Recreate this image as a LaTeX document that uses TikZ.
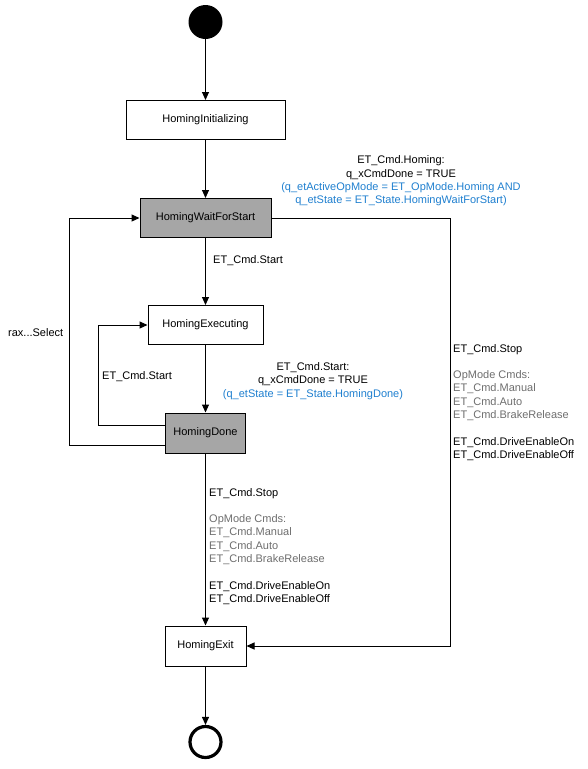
\documentclass[tikz,border=0pt]{standalone}
\usepackage{fontspec}
\setmainfont{Liberation Sans}
\usetikzlibrary{arrows.meta}
\definecolor{cgrey}{HTML}{6E6E6E}
\definecolor{cblue}{HTML}{1F7FCF}
\definecolor{cfill}{HTML}{A6A6A6}
\begin{document}
\begin{tikzpicture}[x=1pt,y=-1pt,
  font=\fontsize{11}{13.4}\selectfont,
  state/.style={draw=black,line width=1pt,fill=white,minimum height=39pt,inner sep=0pt},
  active/.style={state,fill=cfill},
  conn/.style={line width=1pt,-{Triangle[length=8pt,width=7pt]}},
  lbl/.style={inner sep=0pt,text=black}]
\useasboundingbox (0,0) rectangle (587,769);
\node[circle,fill=black,minimum size=34pt,inner sep=0pt] (start) at (205.5,22) {};
\node[state,minimum width=159pt] (init) at (205.5,120) {HomingInitializing};
\node[active,minimum width=131pt] (wait) at (205.5,218) {HomingWaitForStart};
\node[state,minimum width=115pt] (exec) at (205.5,325) {HomingExecuting};
\node[active,minimum width=80pt,minimum height=40pt] (done) at (205.5,433) {HomingDone};
\node[state,minimum width=81pt,minimum height=40pt] (exit) at (205.5,646) {HomingExit};
\node[circle,draw=black,line width=3.2pt,minimum size=31pt,inner sep=0pt] (end) at (205.5,742) {};

\coordinate (r1) at (450,218);
\coordinate (r2) at (450,646);
\coordinate (l1) at (69,445);
\coordinate (l2) at (69,218);
\coordinate (i1) at (98,425);
\coordinate (i2) at (98,325);

\draw[conn] (start) -- (init);
\draw[conn] (init) -- (wait);
\draw[conn] (wait) -- (exec);
\draw[conn] (exec) -- (done);
\draw[conn] (done) -- (exit);
\draw[conn] (exit) -- (end);
\draw[conn] (wait.east) -- (r1) -- (r2) -- (exit.east);
\draw[conn] (done.west |- l1) -- (l1) -- (l2) -- (wait.west);
\draw[conn] (done.west |- i1) -- (i1) -- (i2) -- (exec.west);

\node[lbl,align=center] (ltop) at (401,181) {ET\_Cmd.Homing:\\q\_xCmdDone = TRUE\\\textcolor{cblue}{(q\_etActiveOpMode = ET\_OpMode.Homing AND}\\\textcolor{cblue}{q\_etState = ET\_State.HomingWaitForStart)}};
\node[lbl,anchor=west] (lstart) at (213,261) {ET\_Cmd.Start};
\node[lbl,align=center] (ldone) at (313,381) {ET\_Cmd.Start:\\q\_xCmdDone = TRUE\\\textcolor{cblue}{(q\_etState = ET\_State.HomingDone)}};
\node[lbl,anchor=west] (lloop) at (102,377) {ET\_Cmd.Start};
\node[lbl,anchor=west] (lsel) at (8,333) {rax...Select};
\node[lbl,align=left,anchor=north west] (lright) at (453,344) {ET\_Cmd.Stop\\[13pt]\textcolor{cgrey}{OpMode Cmds:}\\\textcolor{cgrey}{ET\_Cmd.Manual}\\\textcolor{cgrey}{ET\_Cmd.Auto}\\\textcolor{cgrey}{ET\_Cmd.BrakeRelease}\\[13pt]ET\_Cmd.DriveEnableOn\\ET\_Cmd.DriveEnableOff};
\node[lbl,align=left,anchor=north west] (lbottom) at (209,488) {ET\_Cmd.Stop\\[13pt]\textcolor{cgrey}{OpMode Cmds:}\\\textcolor{cgrey}{ET\_Cmd.Manual}\\\textcolor{cgrey}{ET\_Cmd.Auto}\\\textcolor{cgrey}{ET\_Cmd.BrakeRelease}\\[13pt]ET\_Cmd.DriveEnableOn\\ET\_Cmd.DriveEnableOff};
\end{tikzpicture}
\end{document}
